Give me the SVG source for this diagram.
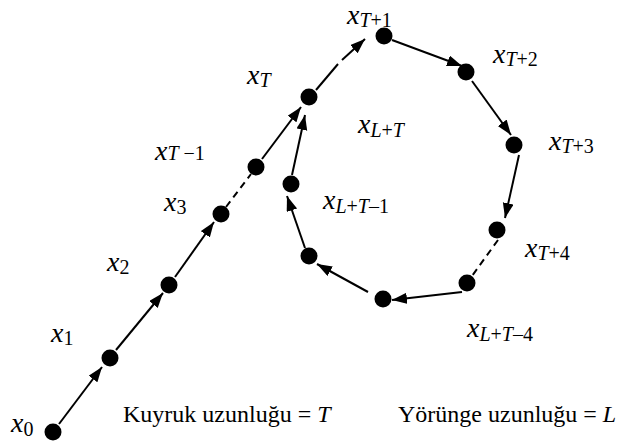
<svg xmlns="http://www.w3.org/2000/svg" width="630" height="441" viewBox="0 0 630 441">
<defs>
<marker id="ah" markerWidth="16" markerHeight="12" refX="15" refY="5.5" orient="auto" markerUnits="userSpaceOnUse">
<path d="M0,0 L15,5.5 L0,11 z" fill="#000"/>
</marker>
<style>
.n{fill:#000}
.e{stroke:#000;stroke-width:2;fill:none}
.a{marker-end:url(#ah)}
.d{stroke-dasharray:7,5}
.v{font-style:italic;font-size:28px;fill:#000}
.s{font-size:20px}
.t{font-size:24px;fill:#000}
.i{font-style:italic}
</style>
</defs>
<rect width="630" height="441" fill="#fff"/>
<g id="connectors">
<line class="e a" x1="59" y1="424" x2="102" y2="367"/>
<line class="e a" x1="116" y1="350" x2="163" y2="293"/>
<line class="e a" x1="175" y1="277" x2="214" y2="222"/>
<line class="e d" x1="226" y1="207" x2="251" y2="174"/>
<line class="e a" x1="262" y1="159" x2="301" y2="107"/>
<line class="e" x1="316" y1="90" x2="338" y2="64"/>
<line class="e a" x1="342" y1="60" x2="365" y2="39"/>
<line class="e a" x1="392" y1="40" x2="462" y2="66"/>
<line class="e a" x1="472" y1="81" x2="511" y2="135"/>
<line class="e a" x1="519" y1="155" x2="505" y2="218"/>
<line class="e d" x1="498" y1="240" x2="472" y2="276"/>
<line class="e a" x1="462" y1="292" x2="392" y2="300"/>
<line class="e a" x1="368" y1="292" x2="317" y2="264"/>
<line class="e a" x1="305" y1="248" x2="287" y2="196"/>
<line class="e a" x1="292" y1="175" x2="305" y2="115"/>
</g>
<g font-family="'Liberation Serif', 'Times New Roman', serif">
<g id="n0"><circle class="n" cx="53" cy="432" r="8.5"/><text class="v" x="11" y="432">x<tspan class="s" font-style="normal" dy="4">0</tspan></text></g>
<g id="n1"><circle class="n" cx="110" cy="358" r="8.5"/><text class="v" x="51" y="342">x<tspan class="s" font-style="normal" dy="3">1</tspan></text></g>
<g id="n2"><circle class="n" cx="169" cy="285" r="8.5"/><text class="v" x="107" y="271">x<tspan class="s" font-style="normal" dy="3">2</tspan></text></g>
<g id="n3"><circle class="n" cx="221" cy="214" r="8.5"/><text class="v" x="164" y="211">x<tspan class="s" font-style="normal" dy="3">3</tspan></text></g>
<g id="nTm1"><circle class="n" cx="256" cy="167" r="8.5"/><text class="v" x="155" y="160">x<tspan class="s" dy="0">T</tspan><tspan class="s" font-style="normal"> −1</tspan></text></g>
<g id="nT"><circle class="n" cx="309" cy="97" r="8.5"/><text class="v" x="247" y="84">x<tspan class="s" dy="3">T</tspan></text></g>
<g id="nTp1"><circle class="n" cx="384" cy="36" r="8.5"/><text class="v" x="347" y="24">x<tspan class="s" dy="3">T</tspan><tspan class="s" font-style="normal">+1</tspan></text></g>
<g id="nTp2"><circle class="n" cx="466" cy="72" r="8.5"/><text class="v" x="493" y="63">x<tspan class="s" dy="3">T</tspan><tspan class="s" font-style="normal">+2</tspan></text></g>
<g id="nTp3"><circle class="n" cx="514" cy="145" r="8.5"/><text class="v" x="549" y="150">x<tspan class="s" dy="3">T</tspan><tspan class="s" font-style="normal">+3</tspan></text></g>
<g id="nTp4"><circle class="n" cx="497" cy="230" r="8.5"/><text class="v" x="525" y="257">x<tspan class="s" dy="3">T</tspan><tspan class="s" font-style="normal">+4</tspan></text></g>
<g id="nLTm4"><circle class="n" cx="467" cy="283" r="8.5"/><text class="v" x="467" y="337">x<tspan class="s" dy="4">L</tspan><tspan class="s" font-style="normal">+</tspan><tspan class="s">T</tspan><tspan class="s" font-style="normal">–4</tspan></text></g>
<g id="nLTm3"><circle class="n" cx="383" cy="299" r="8.5"/></g>
<g id="nLTm2"><circle class="n" cx="309" cy="256" r="8.5"/></g>
<g id="nLTm1"><circle class="n" cx="291" cy="184" r="8.5"/><text class="v" x="323" y="209">x<tspan class="s" dy="4">L</tspan><tspan class="s" font-style="normal">+</tspan><tspan class="s">T</tspan><tspan class="s" font-style="normal">–1</tspan></text></g>
<g id="nLT"><text class="v" x="358" y="133">x<tspan class="s" dy="4">L</tspan><tspan class="s" font-style="normal">+</tspan><tspan class="s">T</tspan></text></g>
<g id="captions">
<text class="t" x="123" y="422">Kuyruk uzunluğu = <tspan class="i">T</tspan></text>
<text class="t" x="398" y="422">Yörünge uzunluğu = <tspan class="i">L</tspan></text>
</g>
</g>
</svg>
